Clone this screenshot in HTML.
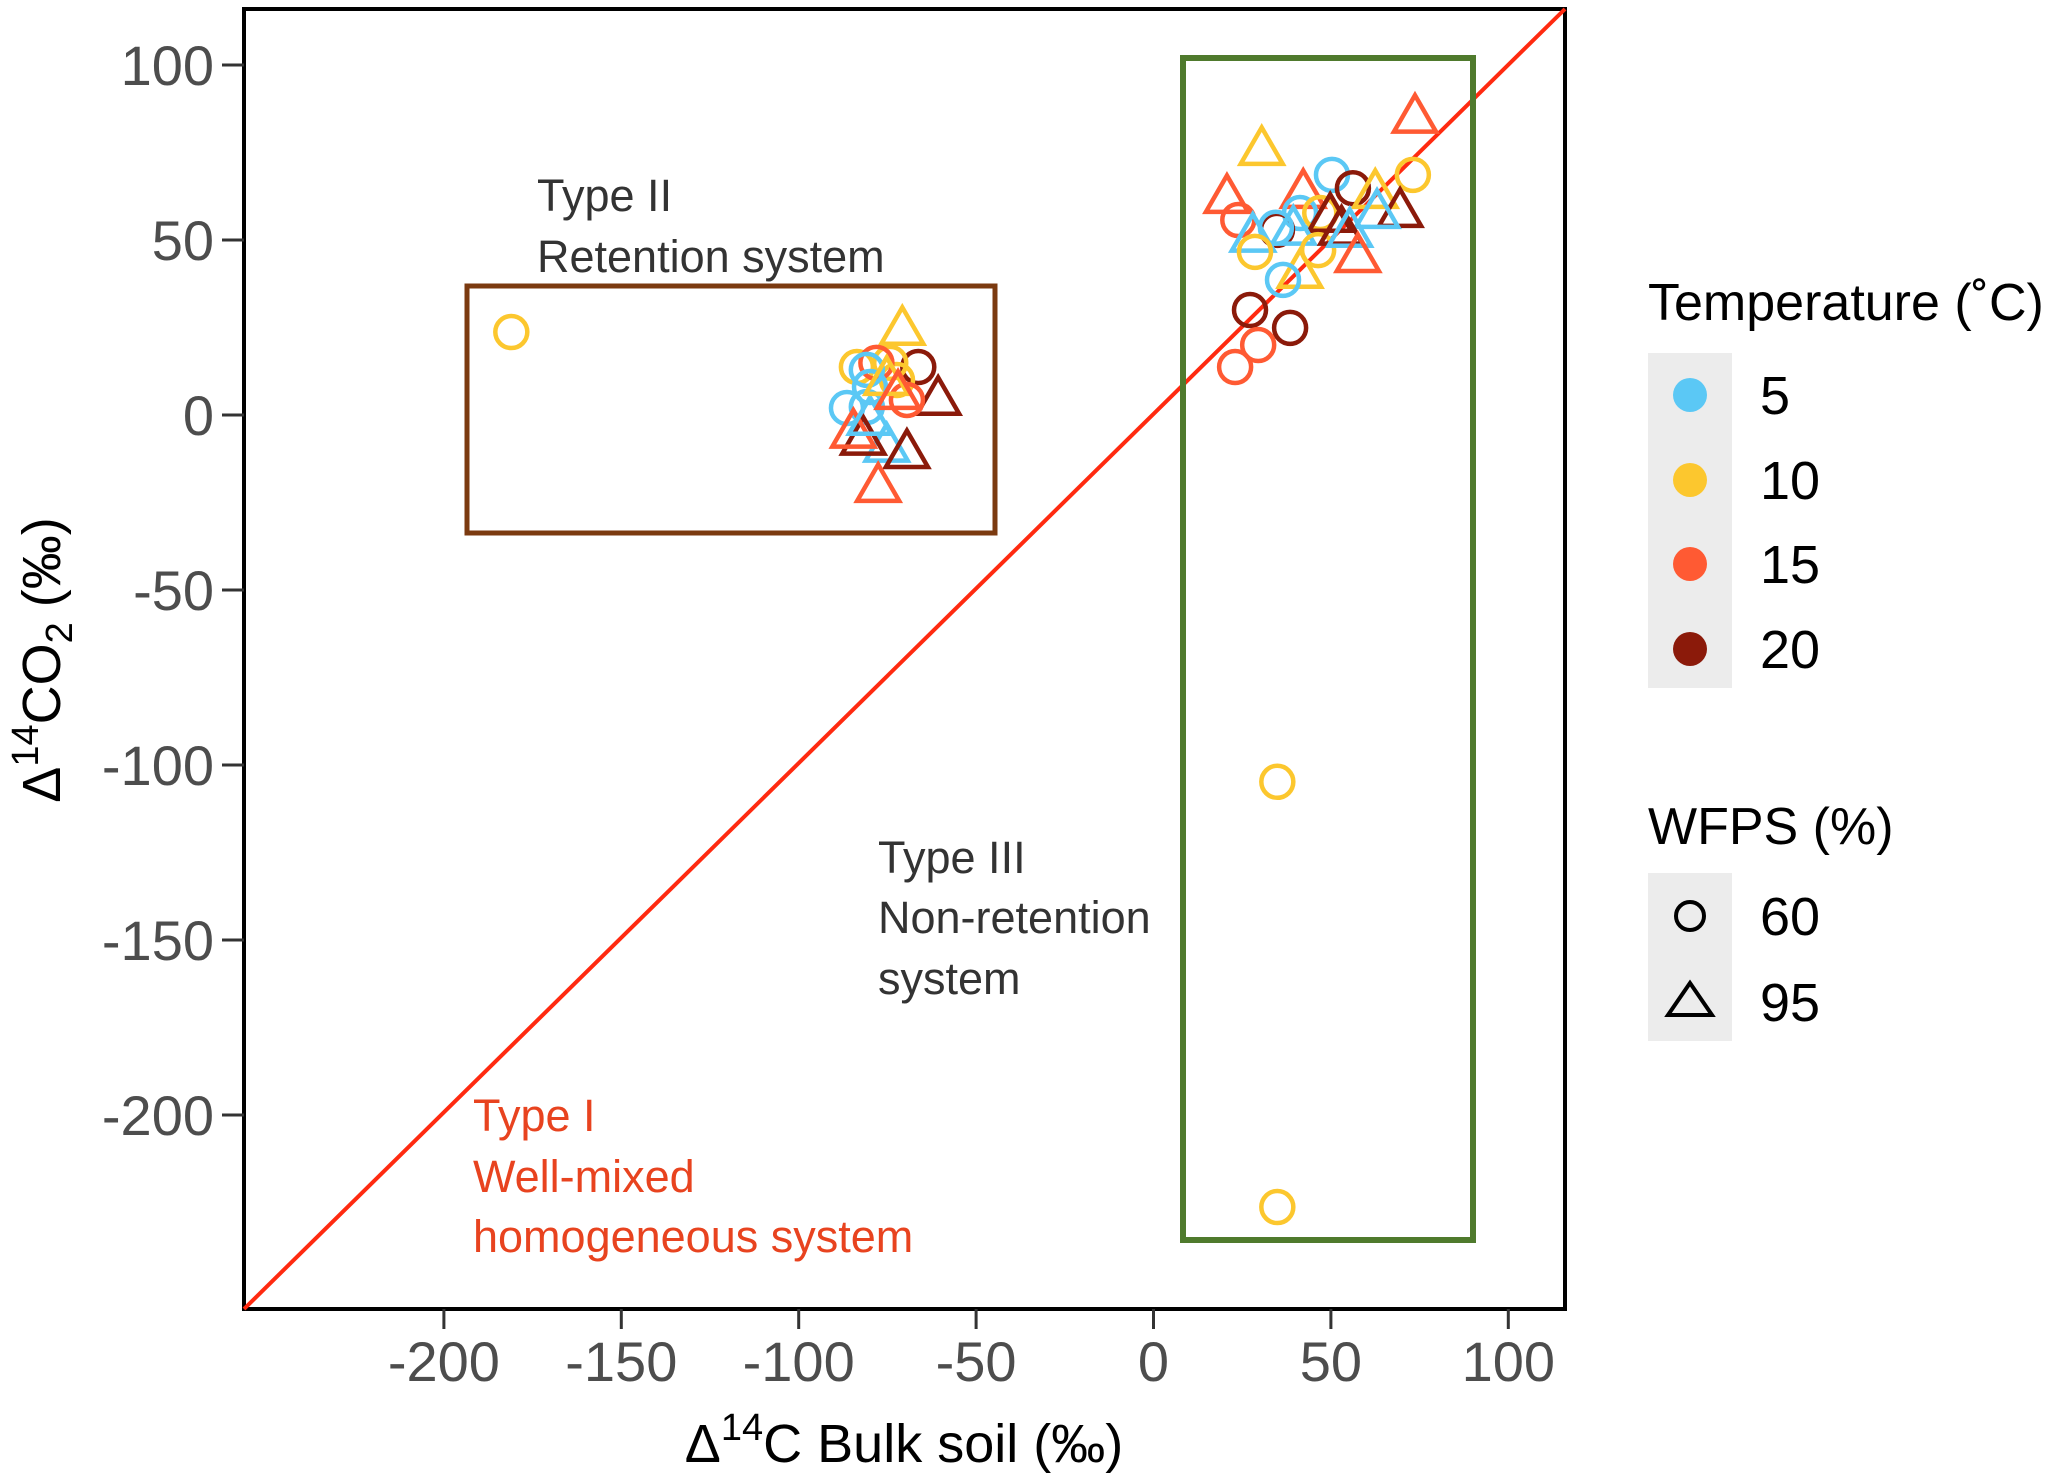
<!DOCTYPE html>
<html><head><meta charset="utf-8"><style>
body{margin:0;background:#fff}
svg{display:block;font-family:"Liberation Sans",Arial,sans-serif}
</style></head><body>
<svg id="chart" width="2067" height="1482" viewBox="0 0 2067 1482" xmlns="http://www.w3.org/2000/svg">
<rect x="0" y="0" width="2067" height="1482" fill="#fff"/>
<g id="grid"></g>
<g id="marks"></g>
</svg>
<script>
const xTicks=[-200,-150,-100,-50,0,50,100];
const yTicks=[100,50,0,-50,-100,-150,-200];
const tempLevels=[5,10,15,20];
const tempColors=["#5bc8f5","#fcc72e","#ff5a33","#8b1a0a"];
const wfpsLevels=[60,95];
// points: bulk soil x, co2 y, temperature, wfps
const xs=[73.7,30.5,20.7,23.9,50.3,56.2,73.1,62.5,69.5,63,42.2,41.3,47,49.8,34.8,34.5,39.4,28,28.6,46.4,53,55.3,57.6,41.3,36.5,27.2,38.5,29.5,23,34.9,34.9,-181,
-70.8,-66.3,-60.7,-83.6,-74.2,-72.3,-69.5,-78.1,-80.8,-79.9,-86.4,-80.8,-75.2,-69.5,-81.8,-84.6,-77.6,-79.9,-75.2,-72];
const ys=[84.9,75.7,62,55.7,68.6,64.8,68.6,63.4,58,57.7,63.4,57.7,57.7,56.6,52.9,53.5,52.9,50.9,46.6,47.1,52.9,52.3,45.1,40.6,38.6,30,24.9,20,13.7,-104.8,-226.3,23.7,
24.3,13.7,4.3,13.7,14.9,10,4.3,14.9,12.9,8,2,2.3,-9.1,-10.9,-7.1,-5.1,-20.6,-1.4,10,6];
const temps=[15,10,15,15,5,20,10,10,20,5,15,5,10,20,20,5,5,5,10,10,20,5,15,10,5,20,20,15,15,10,10,10,
10,20,20,10,10,10,15,15,5,5,5,5,5,20,20,15,15,5,10,15];
const wfps=[95,95,95,60,60,60,60,95,95,95,95,60,60,95,60,60,95,95,60,60,95,95,95,95,60,60,60,60,60,60,60,60,
95,60,95,60,60,60,60,60,60,60,60,60,95,95,95,95,95,95,95,95];

const L=244,R=1565,T=9,B=1309;
const x=v=>1153.5+v*3.548;
const y=v=>415-v*3.5;
const NS="http://www.w3.org/2000/svg";
const svg=document.getElementById('chart');
const g=document.getElementById('marks');
function mk(tag,attrs,parent){const e=document.createElementNS(NS,tag);for(const k in attrs)e.setAttribute(k,attrs[k]);(parent||g).appendChild(e);return e;}

let e=mk('rect',{x:L,y:T,width:R-L,height:B-T,fill:'none',stroke:'#000','stroke-width':4});


e=mk('line',{x1:L,y1:B,x2:R,y2:T,stroke:'#ff2a10','stroke-width':4});


e=mk('rect',{x:467,y:286,width:528,height:247,fill:'none',stroke:'#7b3a10','stroke-width':5});


e=mk('rect',{x:1183,y:58,width:290,height:1182,fill:'none',stroke:'#4f7a2d','stroke-width':6});



xTicks.forEach(v=>{
  let t=mk('line',{x1:x(v),x2:x(v),y1:B,y2:B+20,stroke:'#333','stroke-width':3});
  
  
  let l=mk('text',{x:x(v),y:B+72,'font-size':56,fill:'#4d4d4d','text-anchor':'middle'});
  l.textContent=v;
  
  
});
yTicks.forEach(v=>{
  let t=mk('line',{x1:L-22,x2:L,y1:y(v),y2:y(v),stroke:'#333','stroke-width':3});
  
  
  let l=mk('text',{x:214,y:y(v)+20,'font-size':56,fill:'#4d4d4d','text-anchor':'end'});
  l.textContent=v;
  
  
});

function tri(cx,cy,s){const h=s*0.866;return `${cx},${cy-h*0.62} ${cx-s/2},${cy+h*0.38} ${cx+s/2},${cy+h*0.38}`;}
for(let i=0;i<xs.length;i++){
  const c=tempColors[tempLevels.indexOf(temps[i])];
  let p;
  if(wfps[i]===60){p=mk('circle',{cx:x(xs[i]),cy:y(ys[i]),r:16,fill:'none',stroke:c,'stroke-width':4.5});}
  else{p=mk('polygon',{points:tri(x(xs[i]),y(ys[i]),42),fill:'none',stroke:c,'stroke-width':4.5,'stroke-linejoin':'miter'});}
  
  
}
</script>
<svg style="position:absolute;left:0;top:0" width="2067" height="1482" xmlns="http://www.w3.org/2000/svg" font-family="Liberation Sans, Arial, sans-serif">
<g font-size="45">
<text x="537" y="211" fill="#333">Type II</text>
<text x="537" y="272" fill="#333">Retention system</text>
<text x="878" y="873" fill="#333">Type III</text>
<text x="878" y="933" fill="#333">Non-retention</text>
<text x="878" y="994" fill="#333">system</text>
<text x="473" y="1131" fill="#e8431f">Type I</text>
<text x="473" y="1192" fill="#e8431f">Well-mixed</text>
<text x="473" y="1252" fill="#e8431f">homogeneous system</text>
</g>
<text x="904" y="1462" text-anchor="middle" font-size="54" fill="#000">Δ<tspan font-size="38" dy="-22">14</tspan><tspan dy="22">C Bulk soil (‰)</tspan></text>
<text transform="translate(60,660) rotate(-90)" text-anchor="middle" font-size="54" fill="#000">Δ<tspan font-size="38" dy="-22">14</tspan><tspan dy="22">CO</tspan><tspan font-size="38" dy="12">2</tspan><tspan dy="-12"> (‰)</tspan></text>
<g>
<text x="1648" y="320" font-size="52" fill="#000">Temperature (˚C)</text>
<rect x="1648" y="353" width="84" height="335" fill="#ececec"/>
<circle cx="1690" cy="395" r="17" fill="#5bc8f5"/>
<circle cx="1690" cy="480" r="17" fill="#fcc72e"/>
<circle cx="1690" cy="564" r="17" fill="#ff5a33"/>
<circle cx="1690" cy="649" r="17" fill="#8b1a0a"/>
<text x="1760" y="414" font-size="54">5</text>
<text x="1760" y="499" font-size="54">10</text>
<text x="1760" y="583" font-size="54">15</text>
<text x="1760" y="668" font-size="54">20</text>
</g>
<g>
<text x="1648" y="844" font-size="52" fill="#000">WFPS (%)</text>
<rect x="1648" y="873" width="84" height="168" fill="#ececec"/>
<circle cx="1690" cy="916" r="14" fill="none" stroke="#000" stroke-width="4"/>
<polygon points="1690,983 1668,1015 1712,1015" fill="none" stroke="#000" stroke-width="4"/>
<text x="1760" y="935" font-size="54">60</text>
<text x="1760" y="1021" font-size="54">95</text>
</g>
</svg>
</body></html>
